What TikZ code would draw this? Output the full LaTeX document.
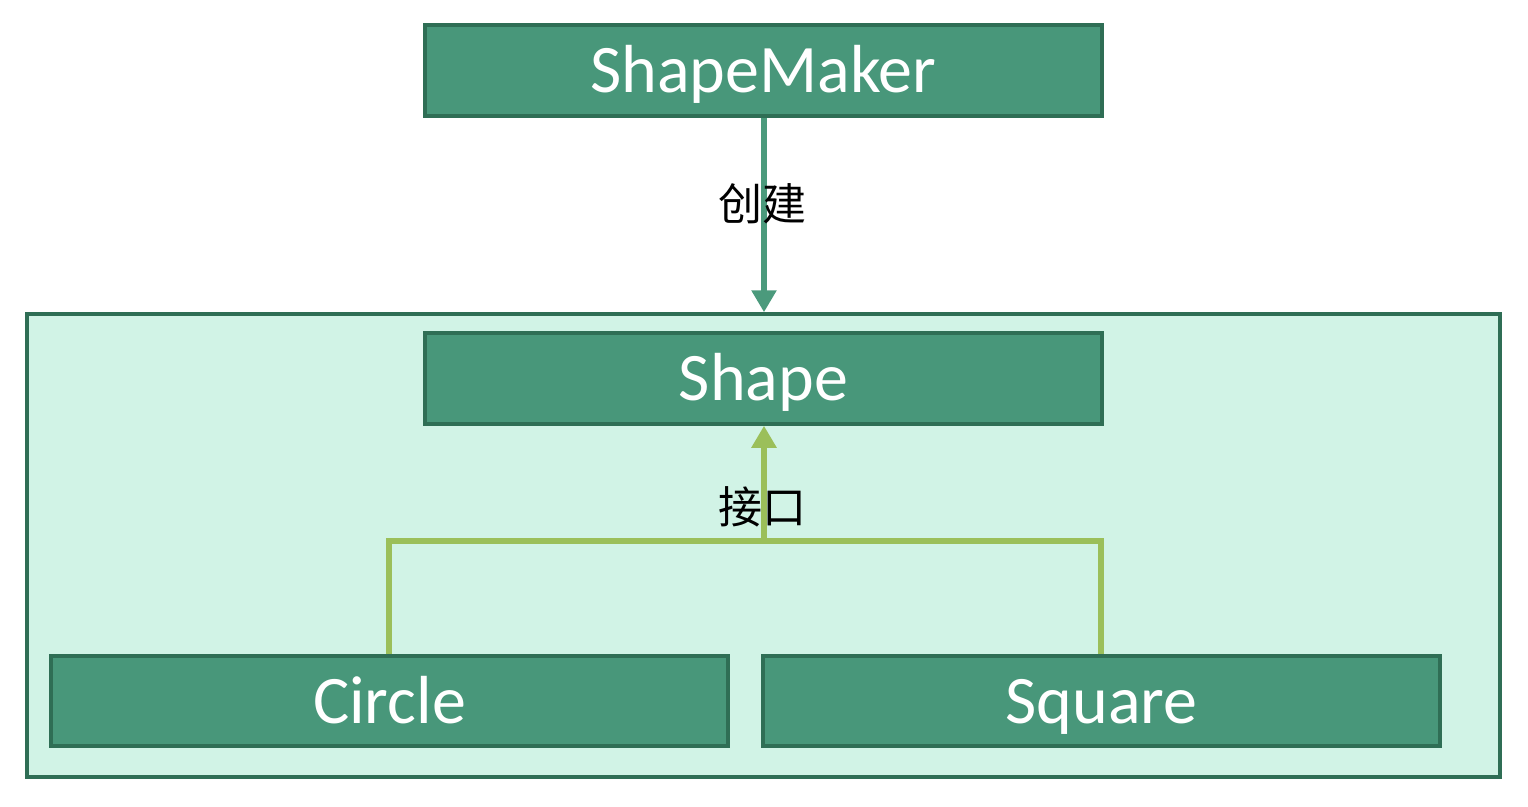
\documentclass[tikz,border=0pt]{standalone}
\usepackage{fontspec}
\setmainfont{Carlito}
\newfontfamily\cjk{Noto Sans CJK SC}
\usetikzlibrary{arrows.meta}
\definecolor{boxfill}{HTML}{48977A}
\definecolor{boxline}{HTML}{2F6E55}
\definecolor{areafill}{HTML}{D1F3E6}
\definecolor{darrow}{HTML}{4B9A7C}
\definecolor{garrow}{HTML}{9BBF5A}
\tikzset{
  cls/.style={draw=boxline, fill=boxfill, line width=3.5pt, text=white,
    font=\fontsize{68}{68}\selectfont, text height=44pt, text depth=0pt},
  lbl/.style={text=black, font=\cjk\fontsize{44}{44}\selectfont, inner sep=0pt},
  darr/.style={draw=darrow, line width=6pt, -{Triangle[length=22pt,width=24pt]}},
  garr/.style={draw=garrow, line width=6pt},
}
\begin{document}
\begin{tikzpicture}[x=1pt,y=-1pt]
\useasboundingbox (0,0) rectangle (1528,806);
\node[draw=boxline, fill=areafill, line width=3.5pt, minimum width=1473pt, minimum height=463pt, inner sep=0pt] (area) at (763.5,545.5) {};
\node[cls, minimum width=677pt, minimum height=91pt, inner sep=0pt] (maker) at (763.5,70.5) {ShapeMaker};
\node[cls, minimum width=677pt, minimum height=91pt, inner sep=0pt] (shape) at (763.5,378.5) {Shape};
\node[cls, minimum width=677pt, minimum height=90pt, inner sep=0pt] (circle) at (389.5,701) {Circle};
\node[cls, minimum width=677pt, minimum height=90pt, inner sep=0pt] (square) at (1101.5,701) {Square};
\coordinate (j) at (764,541);
\draw[darr] (maker.south -| 764,0) -- (area.north -| 764,0);
\node[lbl] (l1) at (762,204) {创建};
\draw[garr, line join=miter] (circle.north -| 389,0) -- (389,541) -- (1101,541) -- (square.north -| 1101,0);
\draw[garr, -{Triangle[length=22pt,width=24pt]}] (j) -- (shape.south -| 764,0);
\node[lbl] (l2) at (762,507) {接口};
\end{tikzpicture}
\end{document}
